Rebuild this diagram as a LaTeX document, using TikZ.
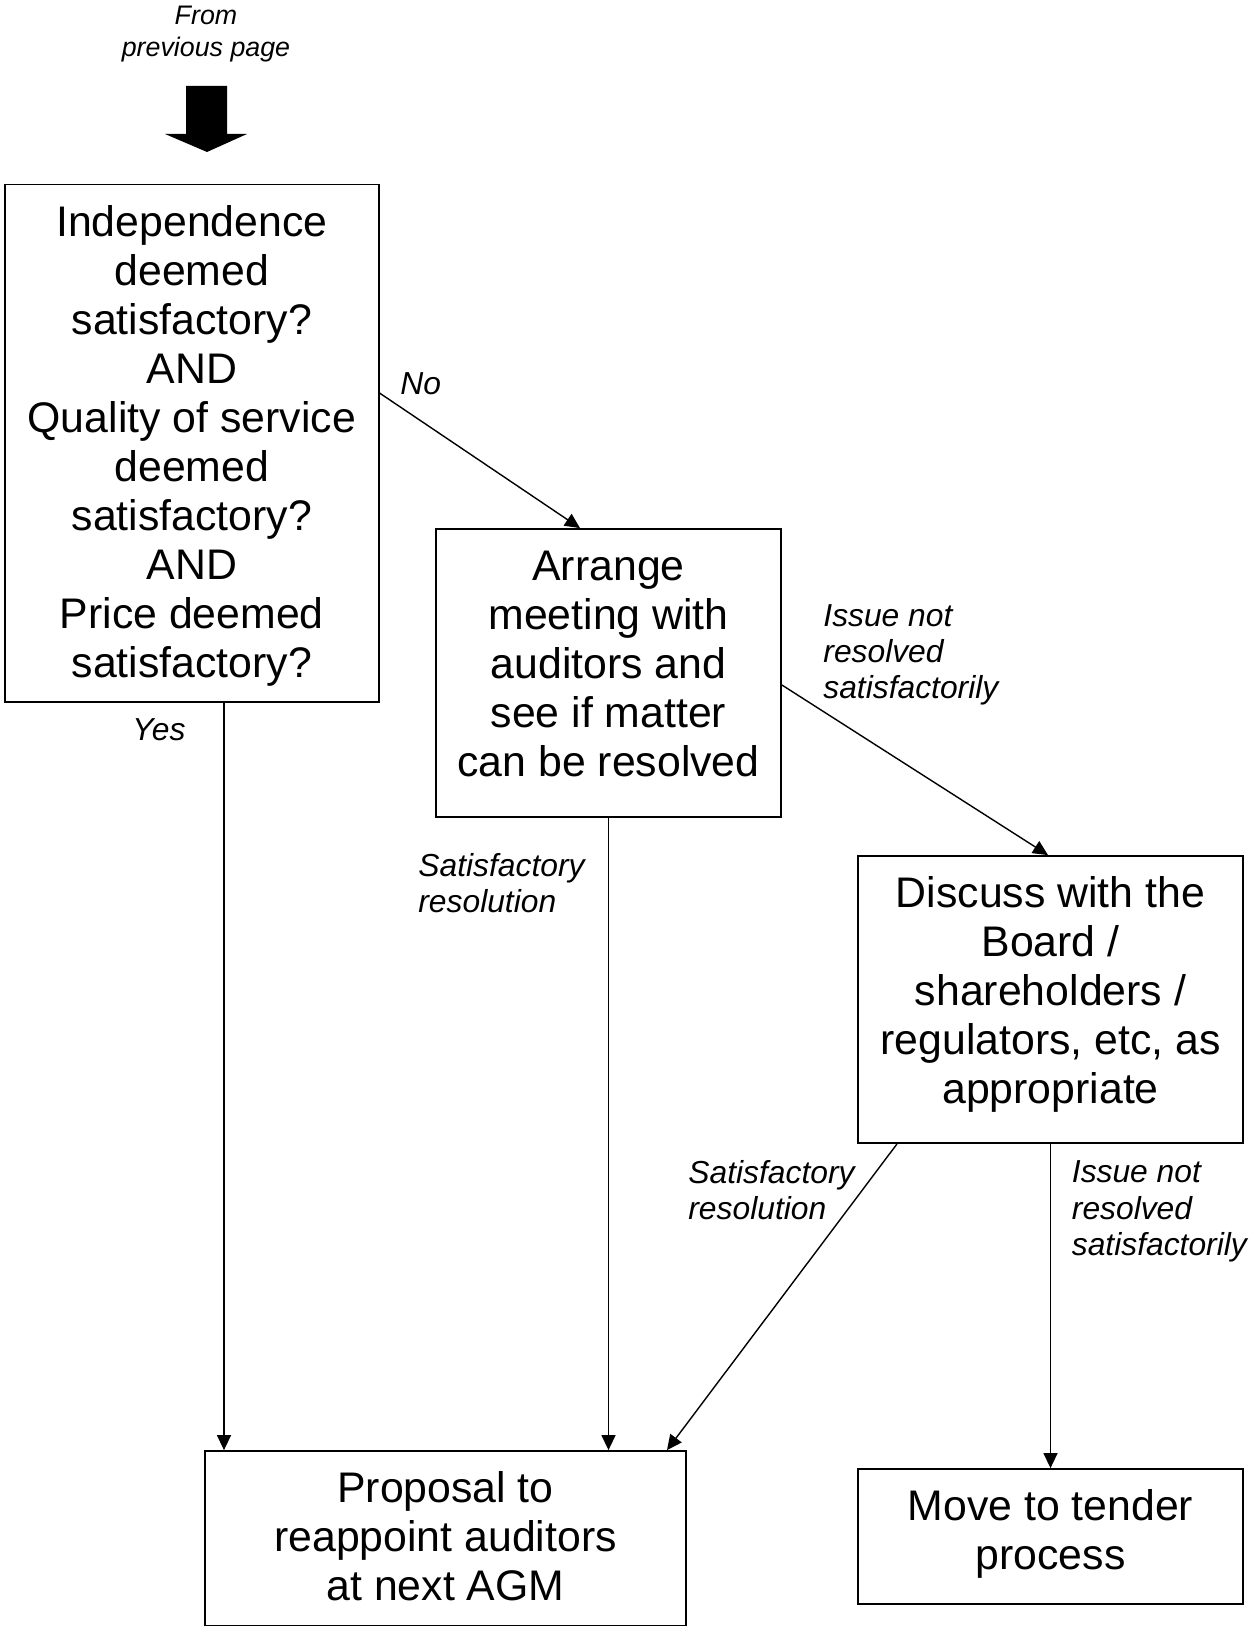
\documentclass[tikz,border=0pt]{standalone}
\usepackage{fontspec}
\setmainfont{Liberation Sans}
\usetikzlibrary{arrows.meta}
\begin{document}
\begin{tikzpicture}[x=0.5pt,y=-0.5pt,
  box/.style={draw,line width=0.9pt,inner sep=0pt},
  boxtext/.style={align=center,inner sep=0pt,font=\fontsize{21.4}{24.5}\selectfont},
  lbl/.style={font=\fontsize{15.9}{18.15}\selectfont\itshape,align=left,anchor=west,inner sep=0pt},
  conn/.style={line width=0.7pt,-{Triangle[length=7.5pt,width=7pt]}}]
\useasboundingbox (0,0) rectangle (1250,1626);

% top note and big arrow
\node[font=\fontsize{13.4}{16}\selectfont\itshape,align=center,inner sep=0pt] (from) at (206,34.5) {From\\previous page};
\fill (186,86) -- (227,86) -- (227,134) -- (247,134) -- (207,152) -- (165,134) -- (186,134) -- cycle;

% boxes
\node[box,minimum width=186.8pt,minimum height=258.8pt] (A) at (191.8,443.3) {};
\node[boxtext] (At) at (191.8,445.5)
  {Independence\\deemed\\satisfactory?\\AND\\Quality of service\\deemed\\satisfactory?\\AND\\Price deemed\\satisfactory?};
\node[box,minimum width=172.5pt,minimum height=144pt] (B) at (608.5,673) {};
\node[boxtext] (Bt) at (608.5,663.7)
  {Arrange\\meeting with\\auditors and\\see if matter\\can be resolved};
\node[box,minimum width=192.5pt,minimum height=143.5pt] (C) at (1050.5,999.5) {};
\node[boxtext] (Ct) at (1050.5,994)
  {Discuss with the\\Board /\\shareholders /\\regulators, etc, as\\appropriate};
\node[box,minimum width=240.5pt,minimum height=87.5pt] (D) at (445.5,1538.5) {};
\node[boxtext] (Dt) at (445.5,1536)
  {Proposal to\\reappoint auditors\\at next AGM};
\node[box,minimum width=192.5pt,minimum height=67.5pt] (E) at (1050.5,1536.5) {};
\node[boxtext] (Et) at (1050.5,1533.8)
  {Move to tender\\process};

% connectors
\draw[conn] ([yshift=25.15pt]A.east) -- ([xshift=-14.25pt]B.north);
\draw[conn] ([xshift=16.1pt]A.south) -- ([xshift=16.1pt]A.south |- D.north);
\draw[conn] (B.south) -- (B.south |- D.north);
\draw[conn] ([yshift=-6pt]B.east) -- ([xshift=-1.25pt]C.north);
\draw[conn] ([xshift=-76.75pt]C.south) -- ([xshift=110.75pt]D.north);
\draw[conn] (C.south) -- (C.south |- E.north);

% labels
\node[lbl] (lno) at (400,384) {No};
\node[lbl] (lyes) at (132,730) {Yes};
\node[lbl] (l1) at (823,655) {Issue not\\resolved\\satisfactorily};
\node[lbl] (l2) at (418,883) {Satisfactory\\resolution};
\node[lbl] (l3) at (688,1190) {Satisfactory\\resolution};
\node[lbl] (l4) at (1071.5,1211.5) {Issue not\\resolved\\satisfactorily};
\end{tikzpicture}
\end{document}
